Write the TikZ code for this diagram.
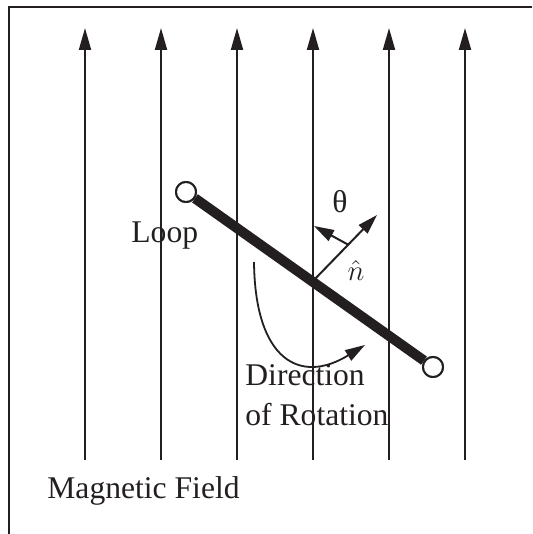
\documentclass[tikz,border=0pt]{standalone}
\usepackage{fontspec}
\setmainfont{Liberation Serif}
\usetikzlibrary{positioning,arrows.meta,calc}
\definecolor{mfInk}{HTML}{231F20}
\definecolor{mfWhite}{HTML}{FFFFFF}
\tikzset{
  mf-frame/.style={line width=1.3pt, draw=mfInk},
  mf-field/.style={-{Triangle[length=11pt,width=6pt]}, line width=1pt, draw=mfInk},
  mf-vec/.style={-{Triangle[length=10pt,width=6pt]}, line width=1pt, draw=mfInk},
  mf-turn/.style={-{Triangle[length=10pt,width=6pt]}, line width=0.9pt, draw=mfInk},
  mf-bar/.style={line width=5pt, draw=mfInk},
  mf-end/.style={circle, draw=mfInk, line width=1pt, fill=mfWhite,
    minimum size=10pt, inner sep=0pt},
  mf-label/.style={font=\fontsize{15.8}{20}\selectfont, text=mfInk,
    inner sep=0pt, align=left}
}
\begin{document}
\begin{tikzpicture}[x=0.5pt, y=-0.5pt]
\useasboundingbox (0,0) rectangle (532,534);

% Frame
\draw[mf-frame] (9,534) -- (9,7) -- (532,7);

% Field lines
\foreach \i in {0,...,5} {
  \coordinate (fb\i) at (85+76*\i,460);
  \coordinate (ft\i) at (85+76*\i,28);
  \draw[mf-field] (fb\i) -- (ft\i);
}

% Loop seen edge-on
\node[mf-end] (endA) at (186,192) {};
\node[mf-end] (endB) at (433,367) {};
\draw[mf-bar] (endA) -- (endB);
\node[mf-end] at (endA) {};
\node[mf-end] at (endB) {};

% Normal and angle
\coordinate (ctr) at (313,281);
\coordinate (ntip) at (377,215);
\draw[mf-vec] (ctr) -- (ntip);
\coordinate (thS) at ($(ctr)!0.55!(ntip)$);
\coordinate (thE) at (314,226);
\draw[mf-vec] (thS) -- (thE);

% Rotation
\coordinate (rotS) at (254,262);
\coordinate (rotE) at (365,345);
\draw[mf-turn] (rotS) .. controls (255,360) and (300,385) .. (rotE);

% Labels
\node[mf-label, anchor=base] (theta) at (340,213) {θ};
\node[mf-label, anchor=base] (nhat) at (356,280) {$\hat{n}$};
\node[mf-label, anchor=base west] (loop) at (131,242) {Loop};
\node[mf-label, anchor=base west] (rot) at (245,425) {Direction\\of Rotation};
\node[mf-label, anchor=base west] (field) at (47,498) {Magnetic Field};
\end{tikzpicture}
\end{document}
